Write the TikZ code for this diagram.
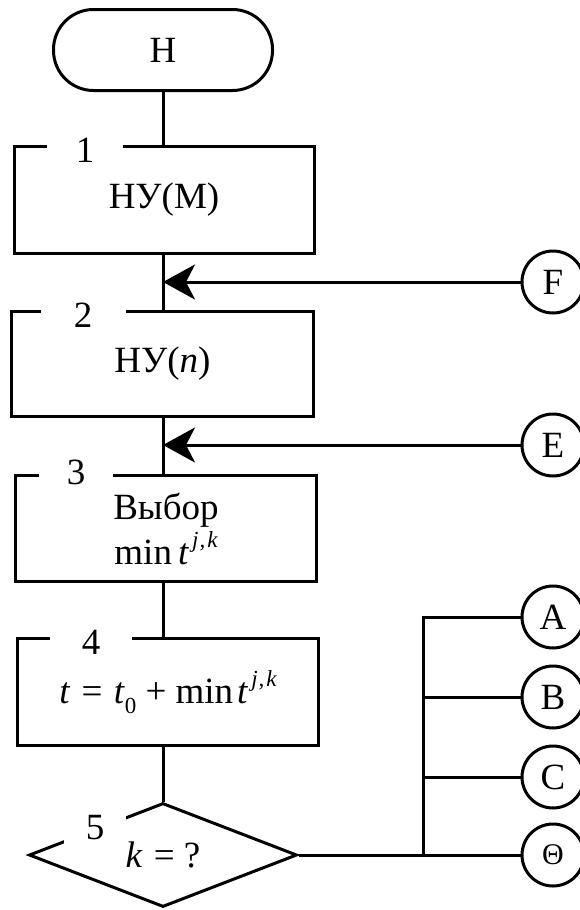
\documentclass[tikz,border=0pt]{standalone}
\usepackage{fontspec}
\setmainfont{Liberation Serif}
\usetikzlibrary{shapes.geometric,arrows.meta}
\newcommand\mysup[1]{\kern3pt\raisebox{0.45em}{\fontsize{23}{23}\selectfont\itshape #1}}
\newcommand\mysub[1]{\raisebox{-0.28em}{\fontsize{23}{23}\selectfont #1}}
\begin{document}
\begin{tikzpicture}[x=1pt,y=-1pt, line width=3pt,
  every node/.style={font=\fontsize{37}{45}\selectfont, inner sep=0pt},
  blk/.style={draw, align=center},
  lbl/.style={fill=white, minimum height=30pt},
  conn/.style={draw, circle, minimum size=62pt},
  arr/.style={-{Stealth[length=32pt,width=35pt,inset=9pt]}}]
\useasboundingbox (0,0) rectangle (579,910);
\fill[white] (0,0) rectangle (579,910);
% start
\node[draw, rounded corners=40pt, minimum width=219pt, minimum height=81pt] (t) at (163,50) {Н};
% blocks
\node[blk, minimum width=300pt, minimum height=107pt] (b1) at (164,200) {НУ(М)};
\node[blk, minimum width=302pt, minimum height=105pt] (b2) at (162.5,364) {НУ(\textit{n})};
\node[blk, minimum width=301pt, minimum height=106pt] (b3) at (166,528.5) {Выбор\\min\,\textit{t}\mysup{j\kern1pt,\kern2pt k}};
\node[blk, minimum width=301pt, minimum height=107pt] (b4) at (168,692) {\raisebox{-5pt}{\textit{t}\kern2pt\ =\ \kern2pt\textit{t}\mysub{0}\ +\ min\kern4pt\textit{t}\mysup{j\kern1pt,\kern2pt k}}};
\node[draw, diamond, aspect=2.6, minimum width=268pt, minimum height=104pt] (d) at (163,855) {\textit{k}\kern2pt\ =\ ?};
% block numbers
\node[lbl, minimum width=76pt] (l1) at (85,150) {1};
\node[lbl, minimum width=85pt] (l2) at (83,315) {2};
\node[lbl, minimum width=74pt] (l3) at (76,472) {3};
\node[lbl, minimum width=82pt] (l4) at (91,642) {4};
\node[fill=white, minimum width=62pt, minimum height=34pt] (l5) at (95,828) {5};
% trunk
\draw (t.south) -- (t.south |- b1.north);
\draw (t.south |- b1.south) -- (t.south |- b2.north);
\draw (t.south |- b2.south) -- (t.south |- b3.north);
\draw (t.south |- b3.south) -- (t.south |- b4.north);
\draw (t.south |- b4.south) -- (d.north);
% connectors
\node[conn] (F) at (553,282) {F};
\node[conn] (E) at (553,445) {E};
\node[conn] (A) at (553,617) {A};
\node[conn] (B) at (553,697) {B};
\node[conn] (C) at (553,777) {C};
\node[conn, font=\fontsize{30}{36}\selectfont] (Th) at (553,855) {Θ};
\draw[arr] (F.west) -- (F.west -| t.south);
\draw[arr] (E.west) -- (E.west -| t.south);
\coordinate (bus) at (423,855);
\draw (d.east) -- (Th.west);
\draw (A.west) -- (bus |- A.west) -- (bus);
\draw (bus |- B.west) -- (B.west);
\draw (bus |- C.west) -- (C.west);
\end{tikzpicture}
\end{document}
